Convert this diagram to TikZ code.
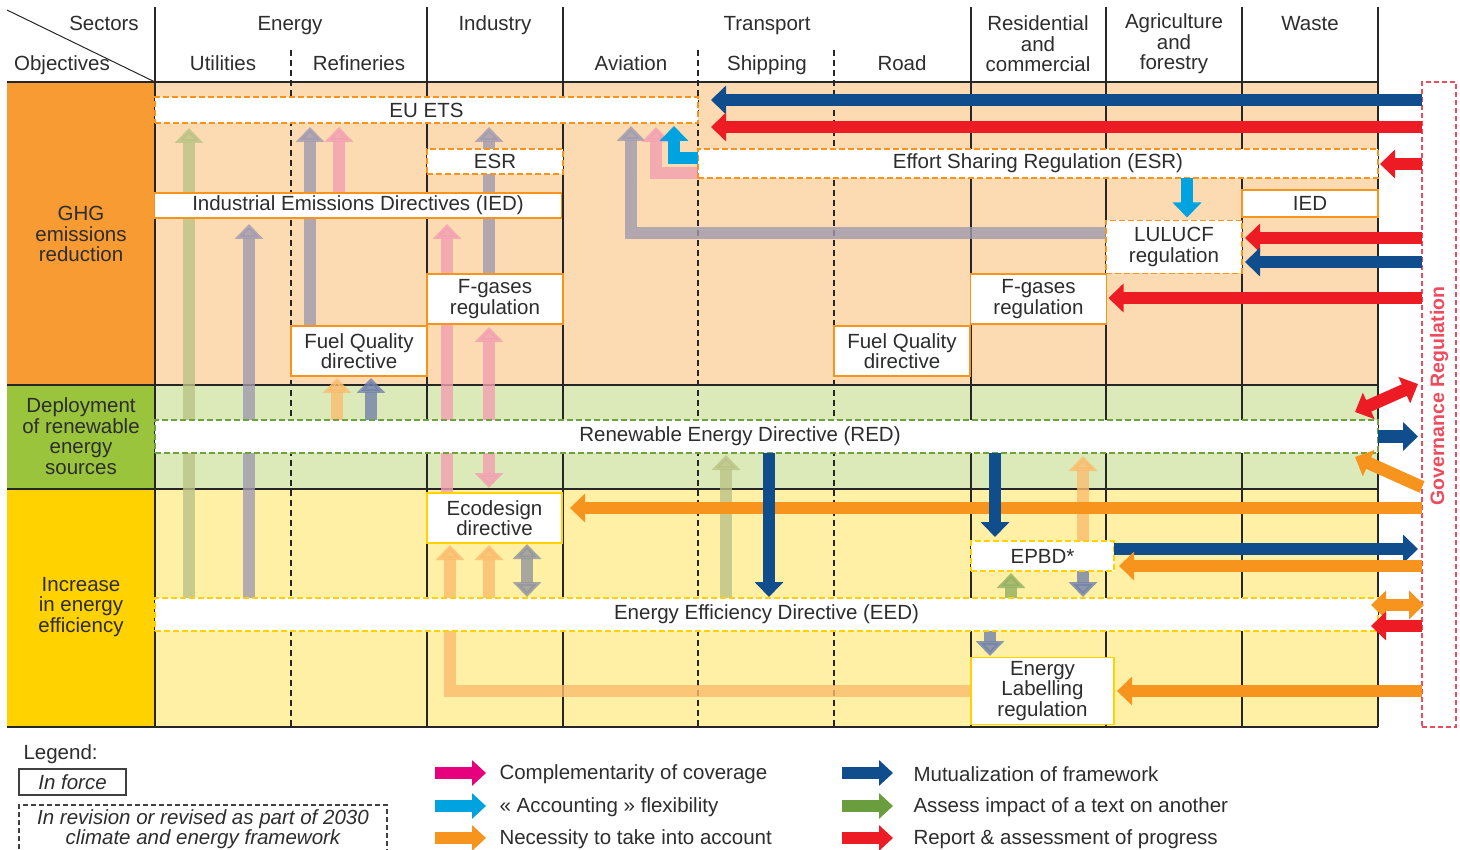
\documentclass[tikz,border=0pt]{standalone}
\usepackage{fontspec}
\setmainfont{Liberation Sans}
\usetikzlibrary{arrows.meta,calc}
\definecolor{ghgfonce}{HTML}{F89B32}
\definecolor{ghgclair}{HTML}{FCDBB3}
\definecolor{resfonce}{HTML}{9AC43C}
\definecolor{resclair}{HTML}{DCEAB9}
\definecolor{resligne}{HTML}{6FA23C}
\definecolor{efffonce}{HTML}{FFD200}
\definecolor{effclair}{HTML}{FFF0A5}
\definecolor{texte}{HTML}{2D2D2D}
\definecolor{marine}{HTML}{0F4D8C}
\definecolor{rouge}{HTML}{ED1C24}
\definecolor{orangef}{HTML}{F7941D}
\definecolor{cyanf}{HTML}{00A3E0}
\definecolor{magentaf}{HTML}{E6007E}
\definecolor{vertf}{HTML}{6A9D3E}
\definecolor{gouv}{HTML}{EE4B5E}
\definecolor{rose}{HTML}{F3A0B0}
\definecolor{mauve}{HTML}{A19AAF}
\definecolor{olivef}{HTML}{BBC285}
\definecolor{vertpale}{HTML}{93B061}
\definecolor{orpale}{HTML}{FBBC6D}
\definecolor{bleugris}{HTML}{7282AB}
\definecolor{gris}{HTML}{92959D}
\tikzset{
  inforce/.style={draw,line width=1.5pt,fill=white,inner sep=2pt,outer sep=0pt,align=center,text=texte},
  revised/.style={inforce,dash pattern=on 6pt off 3pt},
  arw/.style={line width=12.5pt,line join=miter,-{Triangle[width=28pt,length=15pt]}},
  darw/.style={line width=12.5pt,{Triangle[width=28pt,length=15pt]}-{Triangle[width=28pt,length=15pt]}},
  larw/.style={line width=12pt,-{Triangle[width=25pt,length=14pt]}},
  pale/.style={opacity=0.8},
  hdr/.style={text=texte,align=center,anchor=base},
  grille/.style={line width=1.3pt,draw=black!85},
  dgrille/.style={grille,dash pattern=on 6pt off 4pt},
  zone/.style={text=texte,align=center},
}
\begin{document}
\begin{tikzpicture}[x=1pt,y=-1pt,font=\fontsize{20.5}{20.5}\selectfont,text=texte]
  \useasboundingbox (0,0) rectangle (1460,850);
  % zones
  \fill[ghgfonce] (7,82) rectangle (155,385);
  \fill[resfonce] (7,385) rectangle (155,489);
  \fill[efffonce] (7,489) rectangle (155,727);
  \fill[ghgclair] (155,82) rectangle (1378,385);
  \fill[resclair] (155,385) rectangle (1378,489);
  \fill[effclair] (155,489) rectangle (1378,727);
  % grid
  \foreach \x in {155,427,563,971,1106,1242,1378}
    \draw[grille] (\x,7) -- (\x,727);
  \foreach \x in {291,698,834}
    \draw[dgrille] (\x,50) -- (\x,727);
  \foreach \y in {82,385,489,727}
    \draw[grille] (7,\y) -- (1378,\y);
  \draw[grille,line width=1pt] (7,10) -- (155,82);
  % headers
  \node[hdr] (sect) at (104,31) {Sectors};
  \node[hdr] (obj) at (62,71) {Objectives};
  \node[hdr] (energy) at (290,31) {Energy};
  \node[hdr] (indus) at (495,31) {Industry};
  \node[hdr] (transp) at (767,31) {Transport};
  \node[hdr] (waste) at (1310,31) {Waste};
  \node[hdr] (util) at (223,71) {Utilities};
  \node[hdr] (refin) at (359,71) {Refineries};
  \node[hdr] (aviat) at (631,71) {Aviation};
  \node[hdr] (ship) at (767,71) {Shipping};
  \node[hdr] (road) at (902,71) {Road};
  \node[zone] (resid) at (1038,44) {Residential\\and\\commercial};
  \node[zone] (agri) at (1174,44) {Agriculture\\and\\forestry};
  % objectives
  \node[zone] (ghg) at (81,234) {GHG\\emissions\\reduction};
  \node[zone] (dep) at (81,436) {Deployment\\of renewable\\energy\\sources};
  \node[zone] (inc) at (81,607) {Increase\\in energy\\efficiency};
  % pale arrows (under the boxes)
  \draw[arw,pale,olivef,shorten >=5pt] (189,0 |- 0,598) -- (189,0 |- 0,123);
  \draw[arw,pale,mauve,shorten >=6pt] (249,598) -- (249,218);
  \draw[arw,pale,mauve,shorten >=4pt] (310,326) -- (310,123);
  \draw[arw,pale,rose,shorten >=4pt] (339,192) -- (339,123);
  \draw[arw,pale,mauve,shorten >=4pt] (489,274) -- (489,123);
  \draw[arw,pale,rose,shorten >=6pt] (447,492) -- (447,218);
  \draw[darw,pale,rose,shorten <=3pt,shorten >=4pt] (489,324) -- (489,492);
  \draw[arw,pale,mauve,shorten >=3pt] (1106,233) -| (631,123);
  \draw[arw,pale,rose,shorten >=4pt] (698,173) -| (656,123);
  \draw[arw,pale,olivef,shorten >=2pt] (726,598) -- (726,453);
  \draw[arw,pale,orpale,shorten >=3pt] (1083,541) -- (1083,453);
  \draw[arw,pale,vertpale,shorten >=2pt] (1011,598) -- (1011,571);
  \draw[arw,pale,bleugris,shorten >=1pt] (1083,571) -- (1083,598);
  \draw[arw,pale,bleugris,shorten >=1pt] (990,631) -- (990,657);
  \draw[arw,pale,orpale,shorten >=2pt] (971,691) -| (450,543);
  \draw[arw,pale,orpale,shorten >=2pt] (489,598) -- (489,543);
  \draw[darw,pale,gris,shorten <=1pt,shorten >=1pt] (527,598) -- (527,543);
  \draw[arw,pale,orpale,shorten >=2pt] (337,420) -- (337,376);
  \draw[arw,pale,bleugris,shorten >=2pt] (371,420) -- (371,376);
  % boxes
  \node[revised,draw=orangef,minimum width=543pt,minimum height=26pt] (ets) at (426.5,110) {EU ETS};
  \node[revised,draw=orangef,minimum width=136pt,minimum height=25pt] (esr) at (495,161.5) {ESR};
  \node[revised,draw=orangef,minimum width=680pt,minimum height=29pt] (esrb) at (1038,163.5) {Effort Sharing Regulation (ESR)};
  \node[inforce,draw=orangef,minimum width=407pt,minimum height=25pt] (ied) at (358,205.5) {Industrial Emissions Directives (IED)};
  \node[inforce,draw=orangef,minimum width=136pt,minimum height=27pt] (iedw) at (1310,203.5) {IED};
  \node[revised,draw=orangef,minimum width=136pt,minimum height=53pt] (lulucf) at (1174,247) {LULUCF\\regulation};
  \node[inforce,draw=orangef,minimum width=136pt,minimum height=50pt] (fgi) at (495,299) {F-gases\\regulation};
  \node[inforce,draw=orangef,minimum width=136pt,minimum height=50pt] (fgr) at (1038.5,299) {F-gases\\regulation};
  \node[inforce,draw=orangef,minimum width=136pt,minimum height=50pt] (fqr) at (359,351) {Fuel Quality\\directive};
  \node[inforce,draw=orangef,minimum width=136pt,minimum height=50pt] (fqt) at (902,351) {Fuel Quality\\directive};
  \node[revised,draw=resligne,minimum width=1223pt,minimum height=33pt] (red) at (766.5,436.5) {};
  \node (redt) at (740,436) {Renewable Energy Directive (RED)};
  \node[inforce,draw=efffonce,minimum width=135pt,minimum height=50pt] (eco) at (494.5,518) {Ecodesign\\directive};
  \node[revised,draw=efffonce,minimum width=143pt,minimum height=30pt] (epbd) at (1042.5,556) {EPBD*};
  \node[revised,draw=efffonce,minimum width=1223pt,minimum height=33pt] (eed) at (766.5,614.5) {Energy Efficiency Directive (EED)};
  \node[inforce,draw=efffonce,minimum width=143pt,minimum height=67pt] (enl) at (1042.5,691) {Energy\\Labelling\\regulation};
  % governance
  \node[draw=gouv,line width=1.3pt,dash pattern=on 5pt off 3pt,minimum width=34pt,minimum height=645pt,outer sep=0pt] (gov) at (1439,404.5) {};
  \node[rotate=90,text=gouv,font=\fontsize{19.5}{19.5}\selectfont\bfseries] (govt) at (1439,396) {Governance Regulation};
  \coordinate (rd1) at (1355,412);
  \coordinate (rd2) at (1418,384);
  \coordinate (od1) at (1355,457);
  \coordinate (od2) at (1371,605);
  \coordinate (od3) at (1424,605);
  \coordinate (rt1) at (1371,626);
  % solid arrows
  \draw[arw,cyanf,shorten >=3pt] (esrb.west |- 0,158) -| (674,0 |- ets.south);
  \draw[arw,cyanf,shorten >=3pt] (1187,0 |- esrb.south) -- (1187,0 |- lulucf.north);
  \draw[arw,marine,shorten >=13pt] (gov.west |- 0,100) -- (ets.east |- 0,100);
  \draw[arw,rouge,shorten >=13pt] (gov.west |- 0,127) -- (ets.east |- 0,127);
  \draw[arw,rouge,shorten >=2pt] (gov.west |- 0,164) -- (esrb.east |- 0,164);
  \draw[arw,rouge,shorten >=3pt] (gov.west |- 0,238) -- (lulucf.east |- 0,238);
  \draw[arw,marine,shorten >=3pt] (gov.west |- 0,262) -- (lulucf.east |- 0,262);
  \draw[arw,rouge,shorten >=2pt] (gov.west |- 0,298) -- (fgr.east |- 0,298);
  \draw[darw,rouge] (rd1) -- (rd2);
  \draw[arw,marine,shorten >=4pt] (red.east) -- (gov.west |- red.east);
  \draw[arw,orangef] (gov.west |- 0,487) -- (od1);
  \draw[arw,orangef,shorten >=8pt] (gov.west |- 0,508) -- (eco.east |- 0,508);
  \draw[arw,marine,shorten >=1pt] (769,0 |- red.south) -- (769,0 |- eed.north);
  \draw[arw,marine,shorten >=4pt] (995,0 |- red.south) -- (995,0 |- epbd.north);
  \draw[arw,marine,shorten >=4pt] (epbd.east |- 0,549) -- (gov.west |- 0,549);
  \draw[arw,orangef,shorten >=5pt] (gov.west |- 0,566) -- (epbd.east |- 0,566);
  \draw[darw,orangef] (od2) -- (od3);
  \draw[arw,rouge] (gov.west |- rt1) -- (rt1);
  \draw[arw,orangef,shorten >=3pt] (gov.west |- 0,691) -- (enl.east |- 0,691);
  % legend
  \node[anchor=base west] (leg) at (20,759) {Legend:};
  \node[draw=black!75,line width=1.3pt,minimum width=107pt,minimum height=26pt,font=\fontsize{20.5}{20.5}\selectfont\itshape] (lforce) at (72.5,782) {In force};
  \node[draw=black!75,line width=1.3pt,dash pattern=on 5pt off 3pt,minimum width=368pt,minimum height=49pt,align=center,font=\fontsize{20.5}{20}\selectfont\itshape] (lrev) at (203,829.5) {In revision or revised as part of 2030\\climate and energy framework};
  \node[anchor=west] (l1) at (496,774) {Complementarity of coverage};
  \node[anchor=west] (l2) at (496,807) {« Accounting » flexibility};
  \node[anchor=west] (l3) at (496,839) {Necessity to take into account};
  \node[anchor=west] (l4) at (910,774) {Mutualization of framework};
  \node[anchor=west] (l5) at (910,807) {Assess impact of a text on another};
  \node[anchor=west] (l6) at (910,839) {Report \& assessment of progress};
  \draw[larw,magentaf] ($(l1.west)+(-61,-1)$) -- ($(l1.west)+(-10,-1)$);
  \draw[larw,cyanf] ($(l2.west)+(-61,-1)$) -- ($(l2.west)+(-10,-1)$);
  \draw[larw,orangef] ($(l3.west)+(-61,-1)$) -- ($(l3.west)+(-10,-1)$);
  \draw[larw,marine] ($(l4.west)+(-68,-1)$) -- ($(l4.west)+(-17,-1)$);
  \draw[larw,vertf] ($(l5.west)+(-68,-1)$) -- ($(l5.west)+(-17,-1)$);
  \draw[larw,rouge] ($(l6.west)+(-68,-1)$) -- ($(l6.west)+(-17,-1)$);
\end{tikzpicture}
\end{document}
